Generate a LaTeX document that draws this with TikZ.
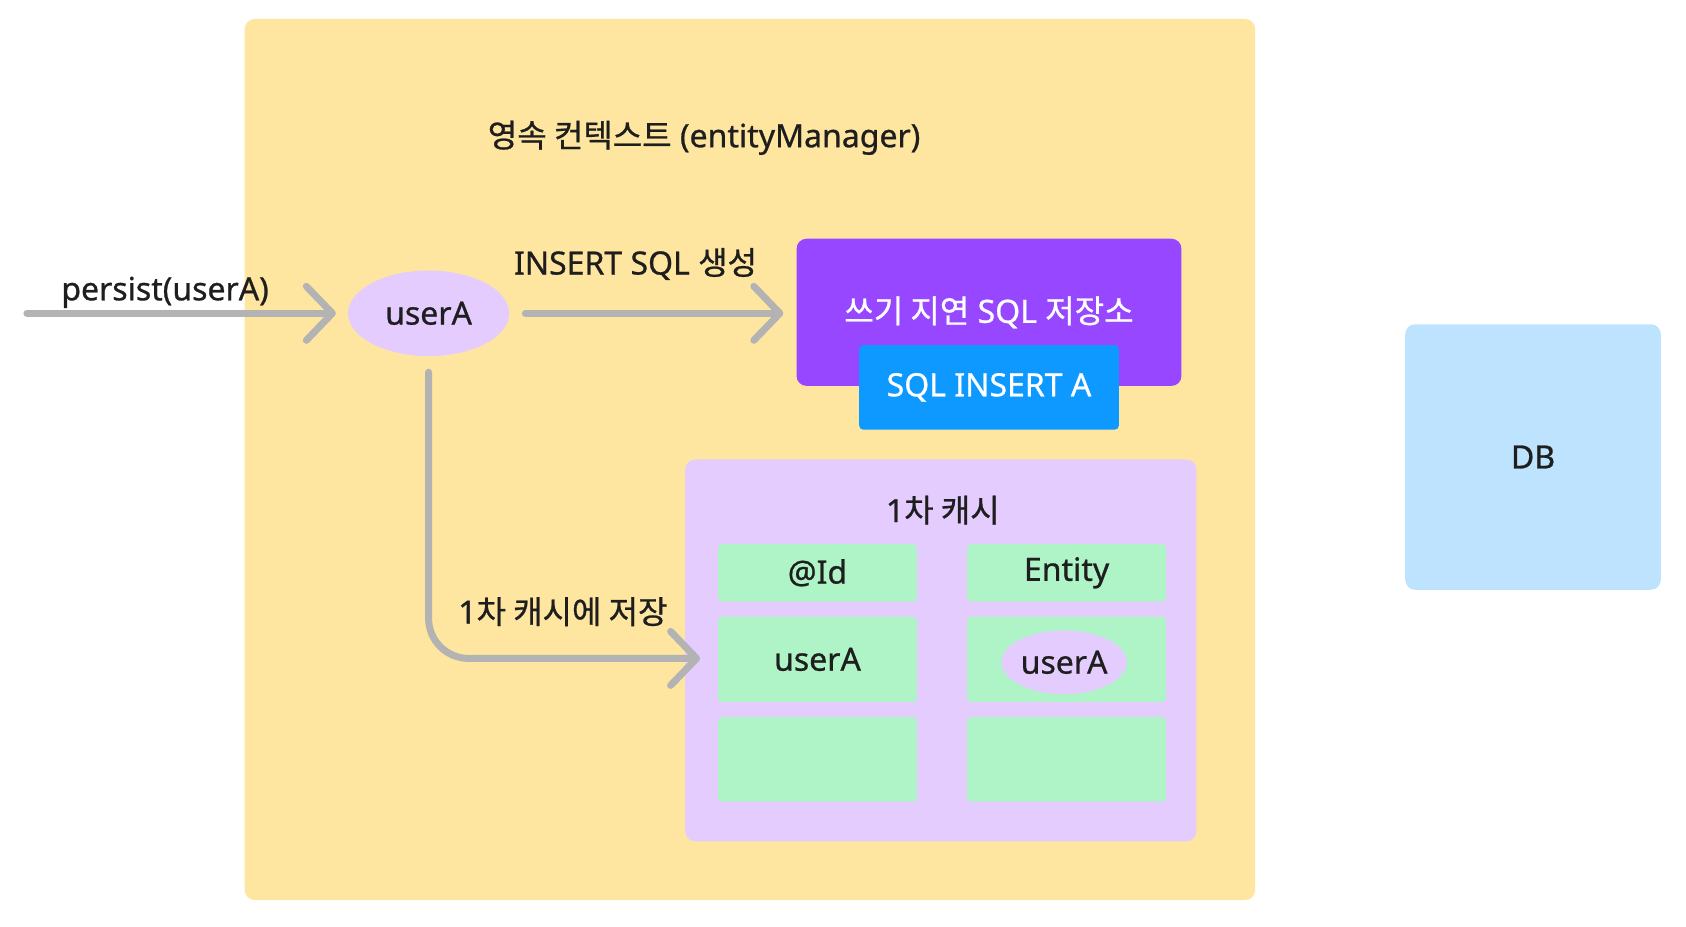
\documentclass[tikz,border=0pt]{standalone}
\usepackage{fontspec}
\setmainfont{Noto Sans}[UprightFeatures={FakeBold=0.8}]
\newfontfamily\kr{Noto Sans CJK KR}[FakeBold=0.8]
\usetikzlibrary{shapes.geometric,arrows.meta,positioning}
\definecolor{ctxyellow}{HTML}{FEE6A1}
\definecolor{bufpurple}{HTML}{9747FF}
\definecolor{sqlblue}{HTML}{0D99FF}
\definecolor{cachelav}{HTML}{E4CCFF}
\definecolor{cellgreen}{HTML}{AFF4C6}
\definecolor{dbblue}{HTML}{BDE3FF}
\definecolor{arrowgray}{HTML}{B3B3B3}
\definecolor{textdark}{HTML}{1E1E1E}
\tikzset{
box/.style={rectangle, inner sep=0pt, rounded corners=10pt, text=textdark},
cell/.style={box, fill=cellgreen, rounded corners=4pt, minimum width=198.9pt},
oval/.style={ellipse, fill=cachelav, inner sep=0pt, text=textdark},
lbl/.style={anchor=base, text=textdark},
line/.style={draw=arrowgray, line width=7pt, line cap=round,
  -{Straight Barb[length=26pt, width=54pt, round]}}
}

\begin{document}
\begin{tikzpicture}[x=1pt, y=-1pt, font=\fontsize{32}{37}\selectfont]
    \useasboundingbox (0,0) rectangle (1686,926);
    % Place boxes
    \node [box, fill=ctxyellow, minimum width=1010.4pt, minimum height=881.1pt] (context) at (749.9,459.5) {};
    \node [lbl] (ctxtitle) at (704.1,147.2) {{\kr 영속 컨텍스트} (entityManager)};
    \node [box, fill=bufpurple, text=white, minimum width=384.9pt, minimum height=147.2pt] (writebuf) at (989,312.3) {{\kr 쓰기 지연} SQL {\kr 저장소}};
    \node [box, fill=sqlblue, text=white, rounded corners=4pt, minimum width=259.6pt, minimum height=84.5pt] (sqlinsert) at (989,387.4) {SQL INSERT A};
    \node [box, fill=cachelav, minimum width=511.2pt, minimum height=381.9pt] (cache) at (940.8,650.4) {};
    \node [lbl] (cachetitle) at (942.8,522.1) {1{\kr 차 캐시}};
    % Cache table
    \node [cell, minimum height=57.7pt] (idhead) at (817.5,572.8) {@Id};
    \node [cell, minimum height=57.7pt] (entityhead) at (1066.6,572.8) {Entity};
    \node [cell, minimum height=85.5pt] (idrow) at (817.5,659.4) {userA};
    \node [cell, minimum height=85.5pt] (entityrow) at (1066.6,659.4) {};
    \node [cell, minimum height=84.5pt] (idempty) at (817.5,759.3) {};
    \node [cell, minimum height=84.5pt] (entityempty) at (1066.6,759.3) {};
    \node [oval, minimum width=125.3pt, minimum height=63.6pt] (cacheduser) at (1064.1,662.3) {userA};
    \node [box, fill=dbblue, minimum width=255.6pt, minimum height=265.5pt] (db) at (1533,457) {DB};
    % Entity and labels
    \node [oval, minimum width=161.1pt, minimum height=85.5pt] (userA) at (428.6,313.3) {userA};
    \node [lbl] (persistlbl) at (165.1,300.3) {persist(userA)};
    \node [lbl] (insertlbl) at (635.5,274.5) {INSERT SQL {\kr 생성}};
    \node [lbl] (storelbl) at (562.9,623.6) {1{\kr 차 캐시에 저장}};
    \coordinate (caller) at (26.9,313.3);
    \coordinate (cachein) at (700.1,658.4);
    % Draw edges
    \path [line, shorten >=12pt] (caller) -- (userA);
    \path [line, shorten <=16pt, shorten >=13pt] (userA.east) -- (userA.east -| writebuf.west);
    \path [line, shorten <=16pt, rounded corners=40pt] (userA.south) |- (cachein);
\end{tikzpicture}
\end{document}
